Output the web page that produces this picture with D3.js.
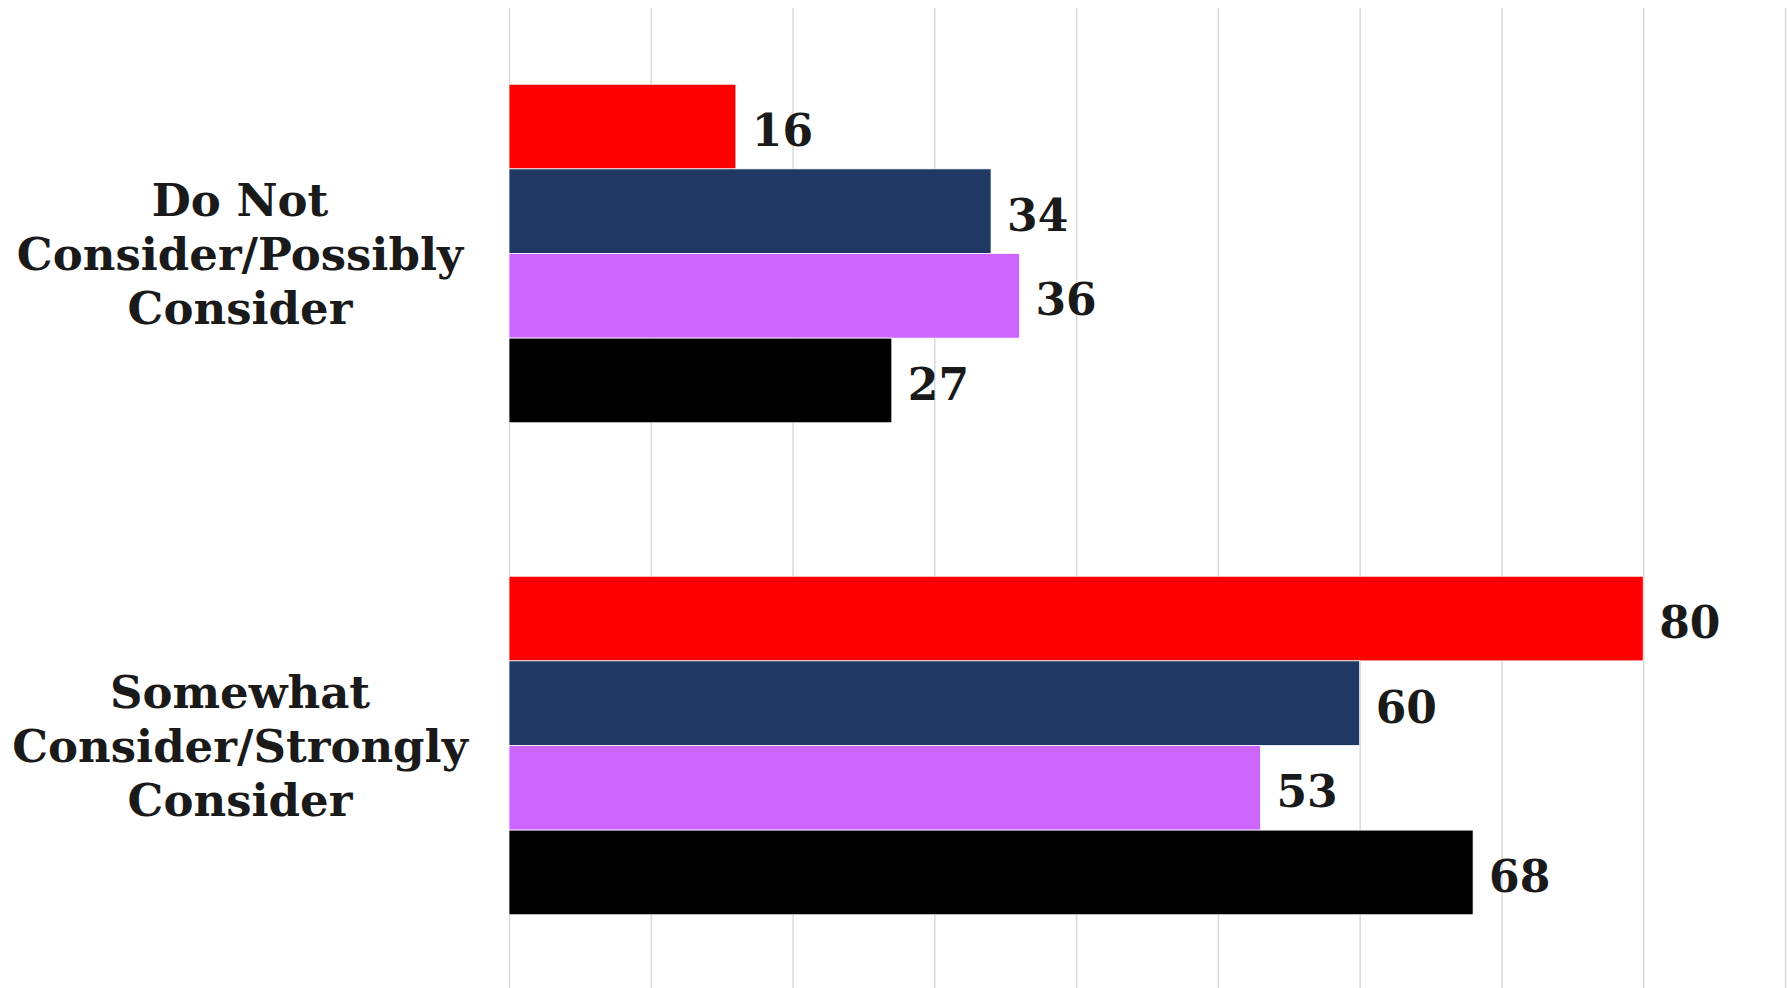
<!DOCTYPE html>
<html lang="en">
	<head>
		<meta charset="utf-8">
		<title>consider chart</title>
		<script type="text/javascript" src="https://cdn.jsdelivr.net/npm/d3@7"></script>
		<style>
			body{
				margin:0;
				background-color:white;
			}
			text{
				font-family:"DejaVu Serif", Georgia, serif;
				font-weight:bold;
				fill:#1a1a1a;
			}
		</style>
	</head>
	<body>
		<div id="barChart"></div>

		<script type="text/javascript">

			var categories = [
				["Do Not", "Consider/Possibly", "Consider"],
				["Somewhat", "Consider/Strongly", "Consider"]
			]
			var series = ["s1","s2","s3","s4"]
			var colors = ["#ff0000","#203864","#cc66ff","#000000"]
			// values per series, one per category
			var s1 = [16, 80]
			var s2 = [34, 60]
			var s3 = [36, 53]
			var s4 = [27, 68]
			var ticks = [0,10,20,30,40,50,60,70,80,90]

			var allValues = [s1,s2,s3,s4]

			var w = 1787
			var h = 988

			var xScale = d3.scaleLinear()
			.domain([0,90])
			.range([509,1785])

			var yScale = d3.scaleBand()
			.domain([0,1])
			.range([8,991])
			.paddingInner(0.312)
			.paddingOuter(0.155)

			var subScale = d3.scaleBand()
			.domain(series)
			.range([0,yScale.bandwidth()])
			.padding(0)

			var svg = d3.select("#barChart").append("svg")
			.attr("width",w)
			.attr("height",h)

			// gridlines
			var xAxis = d3.axisBottom(xScale)
			.tickValues(ticks)
			.tickSize(h-8)
			.tickFormat("")

			var grid = svg.append("g")
			.attr("transform","translate(0,8)")
			.call(xAxis)
			grid.select(".domain").remove()
			grid.selectAll("line")
			.attr("stroke","#d9d9d9")
			.attr("stroke-width",1.5)

			var data = []
			for(var c=0; c<categories.length; c++){
				for(var s=0; s<series.length; s++){
					data.push({cat:c, ser:series[s], color:colors[s], value:allValues[s][c]})
				}
			}

			var groups = svg.append("g")

			groups.selectAll("rect")
			.data(data)
			.enter()
			.append("rect")
			.attr("x",xScale(0))
			.attr("y",function(d){
				return yScale(d.cat)+subScale(d.ser)
			})
			.attr("width",function(d){
				return xScale(d.value)-xScale(0)
			})
			.attr("height",subScale.bandwidth())
			.attr("fill",function(d){ return d.color })
			.attr("stroke","#ffffff")
			.attr("stroke-width",0.75)

			groups.selectAll(".val")
			.data(data)
			.enter()
			.append("text")
			.attr("class","val")
			.attr("x",function(d){
				return xScale(d.value)+16
			})
			.attr("y",function(d){
				return yScale(d.cat)+subScale(d.ser)+subScale.bandwidth()/2
			})
			.attr("dy","0.44em")
			.style("font-size","44px")
			.text(function(d){ return d.value })

			// category labels
			var catLabels = svg.selectAll(".cat")
			.data(categories)
			.enter()
			.append("text")
			.attr("class","cat")
			.attr("text-anchor","middle")
			.style("font-size","45px")
			.attr("transform",function(d,i){
				return "translate(240,"+(yScale(i)+yScale.bandwidth()/2)+")"
			})

			catLabels.selectAll("tspan")
			.data(function(d){ return d })
			.enter()
			.append("tspan")
			.attr("x",0)
			.attr("y",function(d,i){
				return (i-1)*54
			})
			.attr("dy","0.36em")
			.text(function(d){ return d })

		</script>
	</body>
</html>
